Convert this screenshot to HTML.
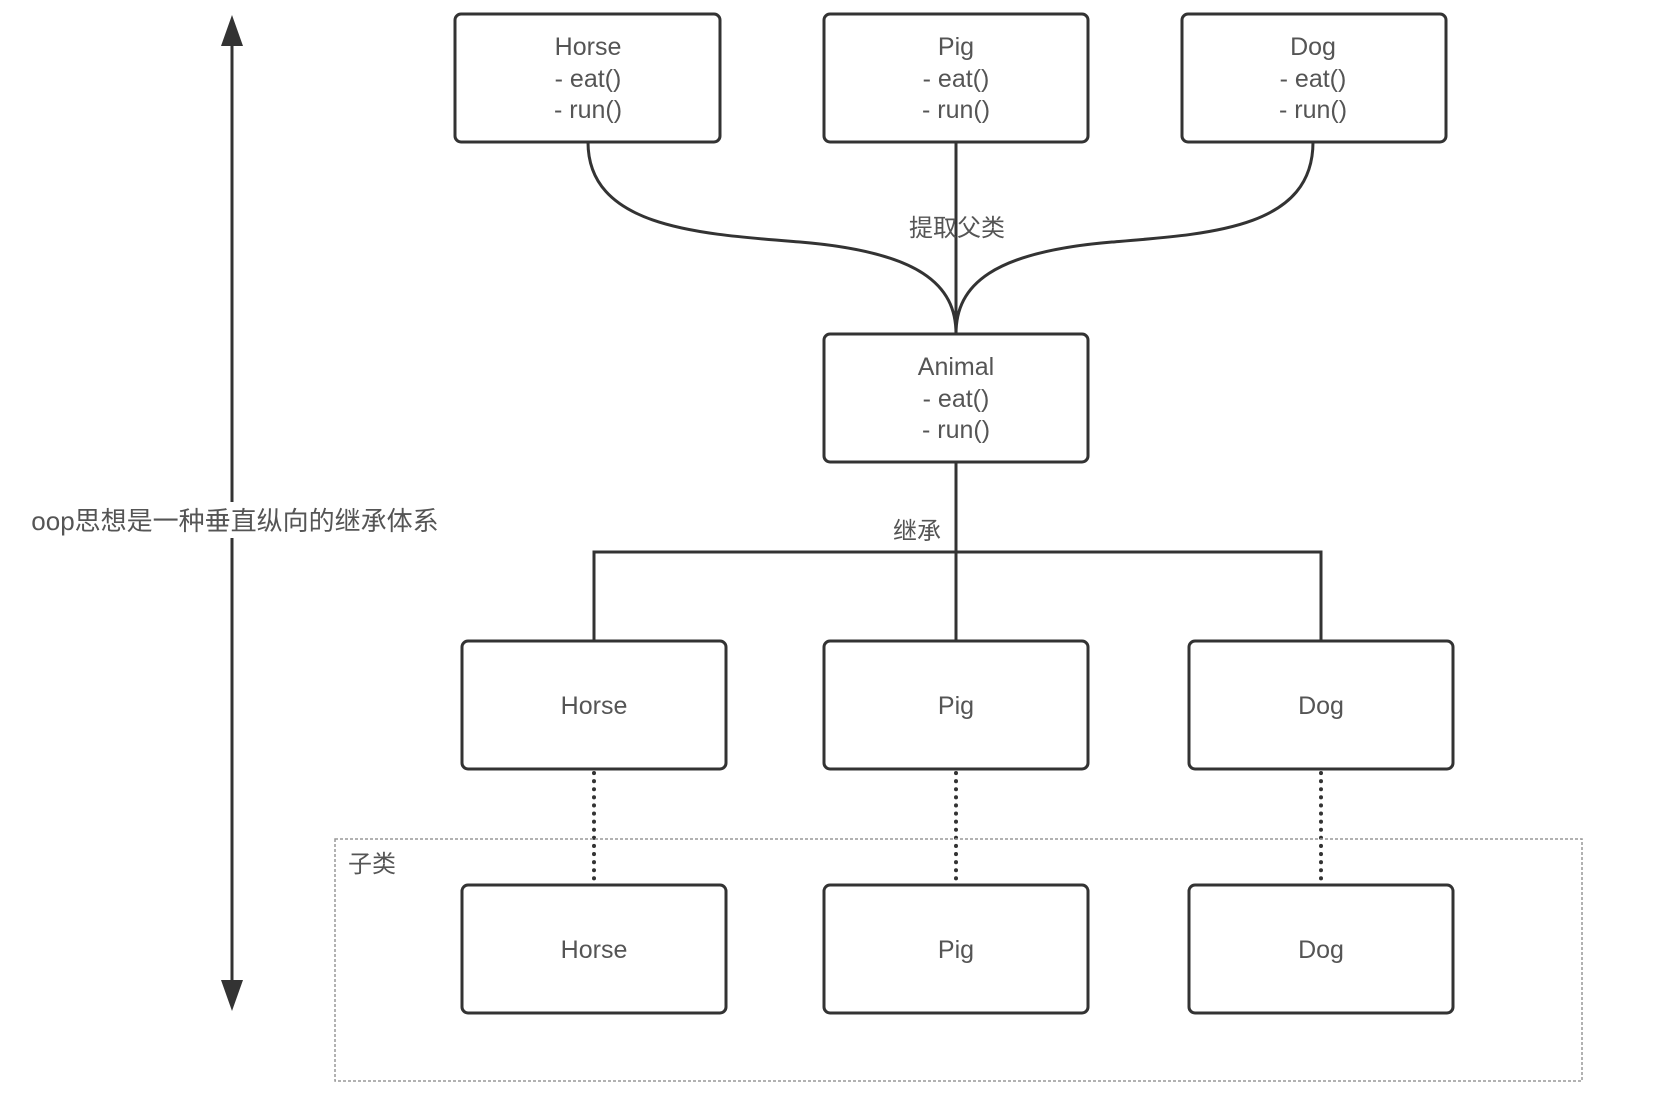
<!DOCTYPE html>
<html><head><meta charset="utf-8"><style>
html,body{margin:0;padding:0;background:#fff;}
svg{display:block;}
text{font-family:"Liberation Sans","Noto Sans CJK SC",sans-serif;fill:#555;}
</style></head><body>
<svg width="1656" height="1106" viewBox="0 0 1656 1106" xmlns="http://www.w3.org/2000/svg">
<g fill="none" stroke="#333" stroke-width="3">
  <rect x="455" y="14" width="265" height="128" rx="6"/>
  <rect x="824" y="14" width="264" height="128" rx="6"/>
  <rect x="1182" y="14" width="264" height="128" rx="6"/>
  <rect x="824" y="334" width="264" height="128" rx="6"/>
  <rect x="462" y="641" width="264" height="128" rx="6"/>
  <rect x="824" y="641" width="264" height="128" rx="6"/>
  <rect x="1189" y="641" width="264" height="128" rx="6"/>
  <rect x="462" y="885" width="264" height="128" rx="6"/>
  <rect x="824" y="885" width="264" height="128" rx="6"/>
  <rect x="1189" y="885" width="264" height="128" rx="6"/>
  <path d="M588 142 C588 228 700 234 800 242 C920 252 956 285 956 334"/>
  <path d="M1313 142 C1313 228 1212 234 1112 242 C992 252 956 285 956 334"/>
  <path d="M956 142 V334"/>
  <path d="M956 462 V641 M594 641 V552 H1321 V641"/>
</g>
<g stroke="#333" stroke-width="4" stroke-dasharray="0.1 8" stroke-linecap="round" fill="none">
  <path d="M594 773 V883 M956 773 V883 M1321 773 V883"/>
</g>
<rect x="335" y="839" width="1247" height="242" fill="none" stroke="#999" stroke-width="1.5" stroke-dasharray="3 2"/>
<line x1="232" y1="40" x2="232" y2="985" stroke="#333" stroke-width="3"/>
<polygon points="232,15 221,46 243,46" fill="#333"/>
<polygon points="232,1011 221,980 243,980" fill="#333"/>
<rect x="22" y="502" width="426" height="36" fill="#fff"/>
<g font-size="25" text-anchor="middle">
  <text x="588" y="55">Horse</text><text x="588" y="87">- eat()</text><text x="588" y="118">- run()</text>
  <text x="956" y="55">Pig</text><text x="956" y="87">- eat()</text><text x="956" y="118">- run()</text>
  <text x="1313" y="55">Dog</text><text x="1313" y="87">- eat()</text><text x="1313" y="118">- run()</text>
  <text x="956" y="375">Animal</text><text x="956" y="407">- eat()</text><text x="956" y="438">- run()</text>
  <text x="594" y="714">Horse</text><text x="956" y="714">Pig</text><text x="1321" y="714">Dog</text>
  <text x="594" y="958">Horse</text><text x="956" y="958">Pig</text><text x="1321" y="958">Dog</text>
  <text x="957" y="236" font-size="24">提取父类</text>
  <text x="917" y="539" font-size="24">继承</text>
  <text x="235" y="530" font-size="26">oop思想是一种垂直纵向的继承体系</text>
</g>
<text x="348" y="872" font-size="24">子类</text>
</svg>
</body></html>
